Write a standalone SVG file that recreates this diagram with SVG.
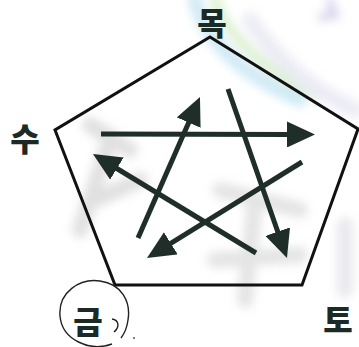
<svg xmlns="http://www.w3.org/2000/svg" width="359" height="347" viewBox="0 0 359 347">
<style>
.lbl{font-family:"Noto Sans CJK KR","Noto Sans",sans-serif;font-weight:900;font-size:32px;fill:#1c2a26;text-anchor:middle}
.arr{stroke:#1f2e29;stroke-width:5;fill:none;marker-end:url(#head)}
.wm{fill:none;stroke-linecap:round}
</style>
<defs>
<marker id="head" viewBox="0 0 28 26" refX="2" refY="13" markerWidth="28" markerHeight="26" markerUnits="userSpaceOnUse" orient="auto">
<path d="M0,0 L28,13 L0,26 Z" fill="#1f2e29"/>
</marker>
<filter id="blur" x="-20%" y="-20%" width="140%" height="140%"><feGaussianBlur stdDeviation="5"/></filter>
</defs>
<rect width="359" height="347" fill="#ffffff"/>
<g id="watermark" opacity="0.55" filter="url(#blur)">
<path class="wm" d="M195,0 Q210,60 300,100" stroke="#a9d8ee" stroke-width="14"/>
<path class="wm" d="M215,0 Q235,55 315,95" stroke="#bfe3a8" stroke-width="10"/>
<path class="wm" d="M250,20 Q290,80 355,110" stroke="#dcdcec" stroke-width="16"/>
<path class="wm" d="M330,2 L335,15 L322,17" stroke="#b7b4dd" stroke-width="8"/>
<path class="wm" d="M90,125 L130,150 M110,140 L80,230 M95,200 L140,180" stroke="#c8c8c8" stroke-width="16"/>
<path class="wm" d="M220,190 L300,210 M255,200 L245,300 M215,260 L300,255" stroke="#cfcfcf" stroke-width="16"/>
<path class="wm" d="M345,225 L345,290" stroke="#d8d8e0" stroke-width="16"/>
</g>
<g id="pentagon">
<polygon points="210,37 358,129 302,285 115,285 55,130" fill="none" stroke="#111" stroke-width="3" stroke-linejoin="miter"/>
</g>
<g id="node-mok"><text class="lbl" x="212" y="35" font-size="26">목</text></g>
<g id="node-su"><text class="lbl" x="25" y="151">수</text></g>
<g id="node-geum">
<text class="lbl" x="88" y="334">금</text>
<path d="M112,344 C90,352 62,340 60,316 C58,292 80,278 100,281 C122,284 131,302 128,320 C127,328 124,334 121,338" fill="none" stroke="#222" stroke-width="1.4"/>
<path d="M112,319 C119,320 120,327 114,332" fill="none" stroke="#222" stroke-width="1.4"/>
<circle cx="134" cy="338" r="0.9" fill="#444"/>
</g>
<g id="node-to"><text class="lbl" x="338" y="332">토</text></g>
<g id="connectors">
<line class="arr" x1="101" y1="134" x2="289" y2="134.5"/>
<line class="arr" x1="138" y1="238" x2="189.5" y2="120.8"/>
<line class="arr" x1="228" y1="89" x2="278.4" y2="233.5"/>
<line class="arr" x1="302" y1="162" x2="169.1" y2="244.3"/>
<line class="arr" x1="256" y1="253" x2="115.2" y2="167.5"/>
</g>
</svg>
